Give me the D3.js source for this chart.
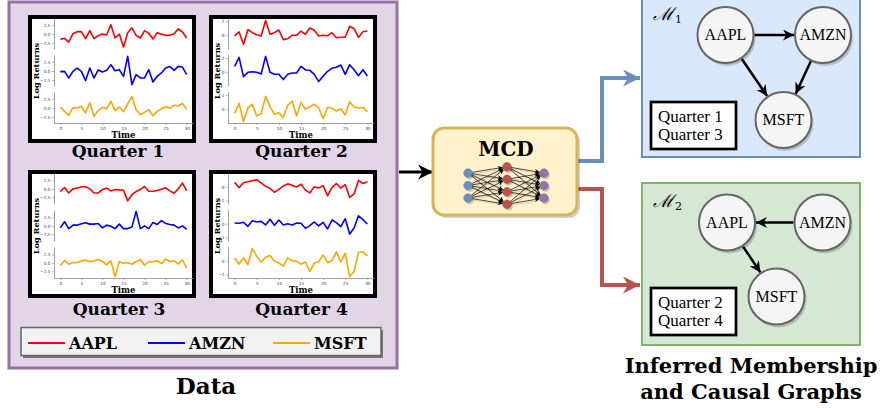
<!DOCTYPE html>
<html><head><meta charset="utf-8">
<script src="https://cdn.jsdelivr.net/npm/d3@7/dist/d3.min.js"></script>
<style>
html,body{margin:0;padding:0;background:#fff;}
svg{display:block;}
</style></head>
<body>
<svg id="c" width="883" height="408"></svg>
<script>
// ---------------- DATA ----------------
const days = [0,1,2,3,4,5,6,7,8,9,10,11,12,13,14,15,16,17,18,19,20,21,22,23,24,25,26,27,28,29,30];
const tickers = ["AAPL","AMZN","MSFT"];
const quarters = ["Quarter 1","Quarter 2","Quarter 3","Quarter 4"];
const xTicks = [0,5,10,15,20,25,30];
const yTicksA = [-2.5,0,2.5];
const yTicksB = [-2,0,2];

const q1AAPL = [-1.48,-1.2,-2.22,0.09,0.65,0.65,-1.3,0.93,-1.3,-0.46,0,-0.28,2.59,-1.11,0,-3.61,0.37,1.67,-0.37,-1.11,0.93,0.19,-1.39,0.37,-0.09,-0.37,-0.37,0.09,1.39,0.56,-1.11];
const q1AMZN = [-0.18,-0.09,-1.93,-0.09,0.83,-0.09,-2.66,0.83,-1.93,0.28,-0.28,0.18,1.74,0.09,0.37,-1.47,4.04,-3.76,-1.01,-1.93,-1.93,0.37,-3.03,-1.47,-0.55,0.83,1.28,0.18,1.28,1.1,-1.01];
const q1MSFT = [0.28,-0.93,-2.04,0.09,0,0.46,-1.39,1.48,-2.31,-0.65,0.19,-0.19,1.85,-0.74,0.28,-1.02,1.11,3.15,-0.46,-1.85,-1.2,-0.46,-2.13,-0.93,-0.19,0.37,-0.09,0.74,0.56,1.3,-0.37];

const q2AAPL = [-0.09,0.47,-1.26,0.79,0.37,0.09,-0.09,2.09,0.14,0.37,0.74,-0.6,-0.47,0,0,0.6,0.14,1.02,0.7,-0.09,0,-0.05,0.37,-0.33,-0.28,-0.28,1.26,0.93,-0.28,0.51,0.6];
const q2AMZN = [0.84,2.09,-0.6,0,0.09,0,-0.23,2.23,0,-0.28,-0.28,-1.02,-0.28,-0.09,-0.09,0.84,0.33,0.28,-0.28,-1.3,-0.56,0.14,0.56,0.7,1.02,-0.28,1.07,0.37,-0.47,0.37,-0.51];
const q2MSFT = [-0.56,0.84,-1.72,0.19,0.7,-0.93,-0.6,1.81,0.37,-0.7,-0.47,-1.16,0.56,1.16,-0.93,0.98,0,0.37,0.7,0.23,-1.3,0.28,0.14,-0.23,0.09,-0.79,1.07,0.33,0.19,0.28,-0.33];

const q3AAPL = [-0.82,0.41,-1.24,0,0.21,0.62,0.62,0,-1.24,-1.24,-0.21,0.21,-0.62,-0.21,-0.31,-0.41,-3.61,-1.75,-0.82,-0.21,0.72,-0.72,-0.72,-0.52,-0.1,0.31,-0.62,-1.34,0,1.75,-0.52];
const q3AMZN = [-0.62,1.24,-0.82,0.21,0.21,0.62,0.93,0.52,0.52,0.72,-0.62,0.21,-0.1,-0.82,0.52,-0.82,-0.82,-0.31,4.33,-0.82,0,-0.82,1.03,0.41,1.55,0.72,0.41,0.21,-0.62,0,-1.03];
const q3MSFT = [-0.82,0.72,-0.41,0.1,0.1,0.52,0.82,0.31,0.62,1.03,0.41,-0.62,0.62,-4.12,0.41,-0.1,0.1,-0.41,0.41,0.93,-0.72,0.31,0.31,0.62,-0.21,1.13,0.41,0.62,-0.31,0.93,-1.55];

const q4AAPL = [0.65,-0.15,0.55,0.7,0.85,1.0,0.55,0.05,-0.25,-0.8,-0.4,0.1,0.4,0.2,-0.05,0.35,-0.5,-0.9,0,-0.2,0.15,-1.3,-0.15,0.45,-0.2,0.3,-1.55,-1.05,0.9,0.45,0.7];
const q4AMZN = [0.1,0.05,0.19,-0.38,0.43,0.24,0.33,-0.19,0.62,-0.24,0.52,-0.19,0,-0.19,0.1,0.05,-0.67,-0.29,0.24,-0.33,0.19,-0.76,0.52,0.14,-0.43,0.71,-1.48,-0.62,1.14,0.57,-0.05];
const q4MSFT = [0.39,-0.49,0.39,-0.59,1.76,0.63,-0.2,0.49,0.73,-0.1,-0.34,-0.78,0.39,0,-0.1,-0.49,-0.2,-1.56,-0.34,-0.15,0.83,-0.29,0,1.27,-0.2,1.07,-2.29,-1.56,1.17,1.27,0.68];

const graph1Edges = [["AAPL","AMZN"],["AAPL","MSFT"],["AMZN","MSFT"]];
const graph2Edges = [["AMZN","AAPL"],["AAPL","MSFT"]];
const graph1Quarters = ["Quarter 1","Quarter 3"];
const graph2Quarters = ["Quarter 2","Quarter 4"];
const nnLayers = [3,4,3];

// ---------------- STYLE / LAYOUT ----------------
const seriesColors = ["#ff0000","#0000ff","#ffa500"];
const boldSerif = "'DejaVu Serif', serif";
const romanSerif = "'Liberation Serif', 'DejaVu Serif', serif";
const svg = d3.select("#c");
const defs = svg.append("defs");

function marker(id, color, w, h) {
  defs.append("marker").attr("id", id)
    .attr("viewBox","0 0 10 10").attr("refX",10).attr("refY",5)
    .attr("markerUnits","userSpaceOnUse").attr("markerWidth",w).attr("markerHeight",h)
    .attr("orient","auto")
    .append("path").attr("d","M0,0 L10,5 L0,10 L3,5 Z").attr("fill",color);
}
marker("mBlack", "#000", 15, 17);
marker("mBlue", "#6c8ebf", 18, 17);
marker("mRed", "#b85450", 18, 17);
marker("mEdge", "#000", 12, 11);
marker("mNN", "#000", 5, 5);

// ---------- Data panel ----------
svg.append("rect").attr("x",9).attr("y",2).attr("width",388).attr("height",366)
  .attr("fill","#e1d5e7").attr("stroke","#9673a6").attr("stroke-width",3);

const chartSeries = [
  [q1AAPL,q1AMZN,q1MSFT],[q2AAPL,q2AMZN,q2MSFT],
  [q3AAPL,q3AMZN,q3MSFT],[q4AAPL,q4AMZN,q4MSFT]];
const chartPos = [[28,15],[209,15],[28,170],[209,170]];
const chartTicks = [yTicksA,yTicksB,yTicksA,yTicksB];
const chartFmt = [d3.format(".1f"),d3.format("d"),d3.format(".1f"),d3.format("d")];
const chartLeft = [26,19,26,19];
const labelPos = [[118,157],[301.5,157],[119,315],[301.5,315]];

quarters.forEach((qName, qi) => {
  const [x0,y0] = chartPos[qi];
  const W = 168, H = 128;
  const g = svg.append("g");
  g.append("rect").attr("x",x0+2).attr("y",y0+2).attr("width",W-4).attr("height",H-4)
    .attr("fill","#fff").attr("stroke","#000").attr("stroke-width",4);
  const series = chartSeries[qi];
  const all = series.flat();
  const mn = d3.min(all), mx = d3.max(all), pad = (mx-mn)*0.05;
  const x = d3.scaleLinear().domain([-1.5,31.5]).range([x0+chartLeft[qi], x0+165]);
  const subH = 31, gap = 6, bottom = y0+108;
  series.forEach((vals, si) => {
    const sb = bottom - (2-si)*(subH+gap);
    const y = d3.scaleLinear().domain([mn-pad, mx+pad]).range([sb, sb-subH]);
    const ticks = chartTicks[qi].filter(t => t >= mn-pad && t <= mx+pad);
    const ax = g.append("g").attr("transform",`translate(${x0+chartLeft[qi]},0)`)
      .call(d3.axisLeft(y).tickValues(ticks).tickFormat(chartFmt[qi]).tickSize(2).tickPadding(1.5).tickSizeOuter(0));
    ax.select(".domain").attr("stroke","#888").attr("stroke-width",0.8);
    ax.selectAll(".tick line").attr("stroke","#888").attr("stroke-width",0.6);
    ax.selectAll("text").attr("font-size",4.3).attr("fill","#444").attr("font-family","'DejaVu Sans',sans-serif");
    g.append("path").datum(vals)
      .attr("d", d3.line().x((d,i)=>x(days[i])).y(d=>y(d)))
      .attr("fill","none").attr("stroke",seriesColors[si]).attr("stroke-width",1.6)
      .attr("stroke-linejoin","round");
  });
  const xa = g.append("g").attr("transform",`translate(0,${bottom})`)
    .call(d3.axisBottom(x).tickValues(xTicks).tickSize(2).tickPadding(1.5).tickSizeOuter(0));
  xa.select(".domain").attr("stroke","#888").attr("stroke-width",0.8);
  xa.selectAll(".tick line").attr("stroke","#888").attr("stroke-width",0.6);
  xa.selectAll("text").attr("font-size",4.3).attr("fill","#444").attr("font-family","'DejaVu Sans',sans-serif");
  g.append("text").attr("x",(x(-1.5)+x(31.5))/2).attr("y",y0+122.5)
    .attr("text-anchor","middle").attr("font-family",boldSerif).attr("font-weight","bold")
    .attr("font-size",8.5).text("Time");
  g.append("text").attr("transform",`translate(${x0+11},${y0+56}) rotate(-90)`)
    .attr("text-anchor","middle").attr("font-family",boldSerif).attr("font-weight","bold")
    .attr("font-size",8.2).text("Log Returns");
  svg.append("text").attr("x",labelPos[qi][0]).attr("y",labelPos[qi][1])
    .attr("text-anchor","middle").attr("font-family",boldSerif).attr("font-weight","bold")
    .attr("font-size",17).text(qName);
});

// legend
svg.append("rect").attr("x",23).attr("y",330).attr("width",360).attr("height",28).attr("fill","#777");
svg.append("rect").attr("x",21).attr("y",327.5).attr("width",360).attr("height",28)
  .attr("fill","#f2f2f2").attr("stroke","#666").attr("stroke-width",1.5);
const legX = [28,148,273];
tickers.forEach((t,i) => {
  svg.append("line").attr("x1",legX[i]).attr("x2",legX[i]+37).attr("y1",343).attr("y2",343)
    .attr("stroke",seriesColors[i]).attr("stroke-width",2);
  svg.append("text").attr("x",legX[i]+41).attr("y",348.5).attr("font-family",boldSerif)
    .attr("font-weight","bold").attr("font-size",16).text(t);
});
svg.append("text").attr("x",206).attr("y",394).attr("text-anchor","middle")
  .attr("font-family",boldSerif).attr("font-weight","bold").attr("font-size",23).text("Data");

// ---------- arrow to MCD ----------
svg.append("line").attr("x1",399).attr("y1",172).attr("x2",433).attr("y2",172)
  .attr("stroke","#000").attr("stroke-width",3).attr("marker-end","url(#mBlack)");

// ---------- connectors ----------
svg.append("path").attr("d","M577,161 H602 V78 H640").attr("fill","none")
  .attr("stroke","#6c8ebf").attr("stroke-width",4).attr("marker-end","url(#mBlue)");
svg.append("path").attr("d","M577,189 H602 V285 H640").attr("fill","none")
  .attr("stroke","#b85450").attr("stroke-width",4).attr("marker-end","url(#mRed)");

// ---------- MCD box ----------
svg.append("rect").attr("x",436).attr("y",131).attr("width",144).attr("height",87).attr("rx",11)
  .attr("fill","#000").attr("opacity",0.18);
svg.append("rect").attr("x",433).attr("y",128).attr("width",144).attr("height",87).attr("rx",11)
  .attr("fill","#fff2cc").attr("stroke","#d6b656").attr("stroke-width",3);
svg.append("text").attr("x",506).attr("y",156).attr("text-anchor","middle")
  .attr("font-family",boldSerif).attr("font-weight","bold").attr("font-size",20).text("MCD");

const nnX = [468,507,544];
const nnColors = ["#6c8ebf","#b85450","#9673a6"];
const nnNodes = nnLayers.map((n,li) => d3.range(n).map(k => ({x:nnX[li], y:185.5 + (k-(n-1)/2)*12.5})));
const nng = svg.append("g");
for (let li=0; li<nnLayers.length-1; li++) {
  nnNodes[li].forEach(a => nnNodes[li+1].forEach(b => {
    const dx=b.x-a.x, dy=b.y-a.y, L=Math.hypot(dx,dy);
    nng.append("line").attr("x1",a.x+1).attr("y1",a.y+1.5).attr("x2",b.x-dx/L*4+1).attr("y2",b.y-dy/L*4+1.5)
      .attr("stroke","#000").attr("stroke-opacity",0.18).attr("stroke-width",0.8);
    nng.append("line").attr("x1",a.x).attr("y1",a.y).attr("x2",b.x-dx/L*4.3).attr("y2",b.y-dy/L*4.3)
      .attr("stroke","#000").attr("stroke-width",0.7).attr("marker-end","url(#mNN)");
  }));
}
nnNodes.forEach((layer,li) => layer.forEach(p => {
  nng.append("circle").attr("cx",p.x+1.5).attr("cy",p.y+2).attr("r",4.3).attr("fill","#000").attr("opacity",0.2);
  nng.append("circle").attr("cx",p.x).attr("cy",p.y).attr("r",4.3).attr("fill",nnColors[li])
    .attr("stroke",d3.color(nnColors[li]).darker(0.3)).attr("stroke-width",0.5);
}));

// ---------- graphs ----------
function drawGraph(box, fill, stroke, sub, pos, edges, qs) {
  const g = svg.append("g");
  g.append("rect").attr("x",box[0]).attr("y",box[1]).attr("width",box[2]).attr("height",box[3])
    .attr("fill",fill).attr("stroke",stroke).attr("stroke-width",2);
  const lbl = g.append("text").attr("x",box[0]+11).attr("y",box[4]).attr("font-family","'DejaVu Serif',serif")
    .attr("font-style","italic").attr("font-size",18);
  lbl.append("tspan").text("\u2133");
  lbl.append("tspan").attr("font-size",11).attr("font-style","normal").attr("dx",1).attr("dy",3).text(sub);
  const r = 28;
  edges.forEach(([s,t]) => {
    const a = pos[s], b = pos[t];
    const dx=b[0]-a[0], dy=b[1]-a[1], L=Math.hypot(dx,dy), ux=dx/L, uy=dy/L;
    g.append("line").attr("x1",a[0]+ux*(r+1)).attr("y1",a[1]+uy*(r+1))
      .attr("x2",b[0]-ux*(r+1)).attr("y2",b[1]-uy*(r+1))
      .attr("stroke","#000").attr("stroke-width",2.5).attr("marker-end","url(#mEdge)");
  });
  Object.entries(pos).forEach(([name,p]) => {
    g.append("circle").attr("cx",p[0]+2).attr("cy",p[1]+3).attr("r",r).attr("fill","#000").attr("opacity",0.18);
    g.append("circle").attr("cx",p[0]).attr("cy",p[1]).attr("r",r).attr("fill","#f5f5f5")
      .attr("stroke","#666").attr("stroke-width",2);
    g.append("text").attr("x",p[0]).attr("y",p[1]+5).attr("text-anchor","middle")
      .attr("font-family",romanSerif).attr("font-size",16).text(name);
  });
  const qb = box[5];
  g.append("rect").attr("x",qb[0]).attr("y",qb[1]).attr("width",85).attr("height",47)
    .attr("fill","#fff").attr("stroke","#000").attr("stroke-width",2.7);
  qs.forEach((q,i) => g.append("text").attr("x",qb[0]+7).attr("y",qb[1]+20+i*18.3)
    .attr("font-family",romanSerif).attr("font-size",17).text(q));
}
drawGraph([642,-2,218,159,20,[651,102]], "#dae8fc", "#6c8ebf", "1",
  {AAPL:[725.5,35], AMZN:[823,35], MSFT:[783.5,120]}, graph1Edges, graph1Quarters);
drawGraph([642,183,218,162,207,[651,288]], "#d5e8d4", "#82b366", "2",
  {AAPL:[727,222.5], AMZN:[822.5,222.5], MSFT:[776.5,296.5]}, graph2Edges, graph2Quarters);

svg.append("text").attr("x",751).attr("y",373).attr("text-anchor","middle")
  .attr("font-family",boldSerif).attr("font-weight","bold").attr("font-size",21).text("Inferred Membership");
svg.append("text").attr("x",751).attr("y",399).attr("text-anchor","middle")
  .attr("font-family",boldSerif).attr("font-weight","bold").attr("font-size",21).text("and Causal Graphs");
</script>
</body></html>
